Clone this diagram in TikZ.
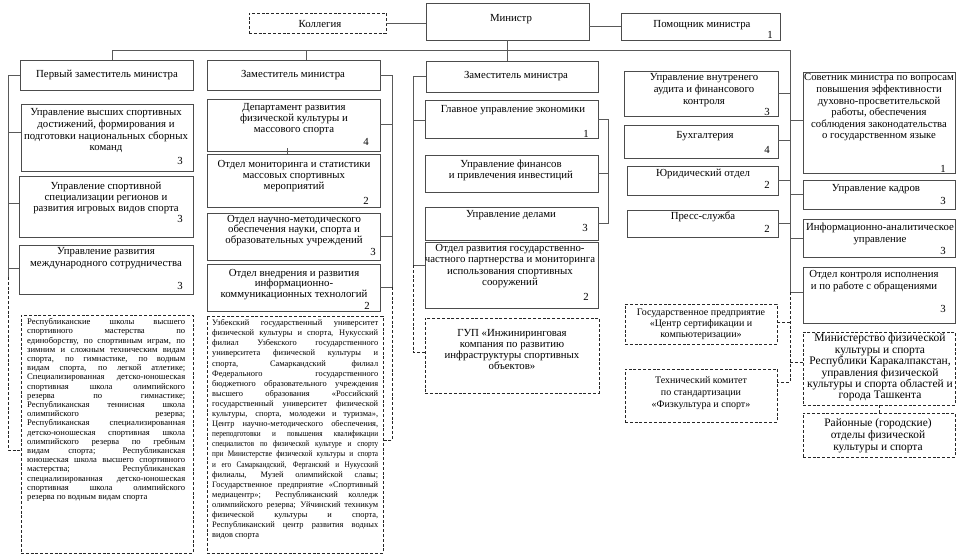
\documentclass[tikz,border=0pt]{standalone}
\usepackage{fontspec}
\setmainfont{Liberation Serif}
\newfontfamily\condf[FakeStretch=0.86]{Liberation Serif}
\newcommand\jla[1]{\makebox[158pt][s]{#1}}
\newcommand\jlb[1]{\makebox[166pt][s]{#1}}
\newcommand\smf{\condf\fontsize{8.4}{10.1}\selectfont}
\newcommand\bx[6][sbox]{%
  \pgfmathsetmacro\mybw{#5-#3}\pgfmathsetmacro\mybh{#6-#4}%
  \node[#1,minimum width=\mybw pt,minimum height=\mybh pt] (#2) at ({(#3+#5)/2},{(#4+#6)/2}) {};}
\tikzset{
  sbox/.style={draw=black!70,line width=0.7pt,inner sep=0pt},
  dbox/.style={draw=black!85,line width=0.9pt,dash pattern=on 3pt off 1.8pt,inner sep=0pt},
  con/.style={draw=black!65,line width=0.7pt},
  dcon/.style={draw=black!85,line width=0.9pt,dash pattern=on 3pt off 1.8pt},
  tx/.style={anchor=north,yshift=3.3pt,inner sep=0pt,align=center,text=black,font=\fontsize{10.8}{11.6}\selectfont},
  txb/.style={tx,font=\fontsize{10.8}{11}\selectfont},
  one/.style={inner sep=0pt,text=black,font=\fontsize{10.8}{12}\selectfont,text height=8pt,text depth=0pt},
  nm/.style={inner sep=0pt,text=black,font=\fontsize{10.8}{12}\selectfont,text height=8.5pt,text depth=0pt},
  densea/.style={anchor=north west,yshift=3.7pt,inner sep=0pt,align=left,text=black,font=\fontsize{8.6}{9.2}\selectfont},
  denseb/.style={anchor=north west,yshift=3.6pt,inner sep=0pt,align=left,text=black,font=\fontsize{8.4}{10.1}\selectfont}
}
\begin{document}
\begin{tikzpicture}[x=1pt,y=-1pt]
\fill[white] (0,0) rectangle (963,555);
\useasboundingbox (0,0) rectangle (963,555);

% ---------- boxes ----------
\bx[dbox]{kol}{249}{13}{386}{33}
\bx{min}{426}{3}{589}{40}
\bx{pom}{621}{13}{780}{40}
\bx{p1}{20}{60}{193}{90}
\bx{A}{21}{104}{193}{171}
\bx{B}{19}{176}{193}{237}
\bx{C}{19}{245}{193}{294}
\bx[dbox]{D1}{21}{315}{193}{553}
\bx{z2}{207}{60}{380}{90}
\bx{E}{207}{99}{380}{151}
\bx{F}{207}{154}{380}{207}
\bx{G}{207}{213}{380}{260}
\bx{H}{207}{264}{380}{311}
\bx[dbox]{D2}{207}{316}{383}{553}
\bx{z3}{426}{61}{598}{92}
\bx{K1}{425}{100}{598}{138}
\bx{K2}{425}{155}{598}{192}
\bx{K3}{425}{207}{598}{240}
\bx{K4}{425}{242}{598}{308}
\bx[dbox]{GUP}{425}{318}{599}{393}
\bx{M1}{624}{71}{778}{116}
\bx{M2}{624}{125}{778}{158}
\bx{M3}{627}{166}{778}{195}
\bx{M4}{627}{210}{778}{237}
\bx{R1}{803}{72}{955}{173}
\bx{R2}{803}{180}{955}{209}
\bx{R3}{803}{219}{955}{257}
\bx{R4}{803}{267}{955}{323}
\bx[dbox]{GP}{625}{304}{777}{344}
\bx[dbox]{TK}{625}{369}{777}{422}
\bx[dbox]{MN}{803}{332}{955}{405}
\bx[dbox]{RN}{803}{413}{955}{457}

% ---------- texts ----------
\node[one] (kolt) at (320,23) {Коллегия};
\node[one] (mint) at (511,17) {Министр};
\node[one] (pomt) at (702,23) {Помощник министра};
\node[nm] (pomn) at (770,34) {1};
\node[one] (p1t) at (107,73) {Первый заместитель министра};
\node[one] (z2t) at (293,73) {Заместитель министра};
\node[one] (z3t) at (516,74) {Заместитель министра};

\node[tx] (At) at (106,112) {Управление высших спортивных\\достижений, формирования и\\подготовки национальных сборных\\команд};
\node[nm] (An) at (180,160) {3};
\node[tx,font=\fontsize{10.8}{11.2}\selectfont] (Bt) at (106,185) {Управление спортивной\\специализации регионов и\\развития игровых видов спорта};
\node[nm] (Bn) at (180,218) {3};
\node[tx] (Ct) at (106,251) {Управление развития\\международного сотрудничества};
\node[nm] (Cn) at (180,285) {3};

\node[txb] (Et) at (294,107) {Департамент развития\\физической культуры и\\массового спорта};
\node[nm] (En) at (366,141) {4};
\node[txb] (Ft) at (294,163) {Отдел мониторинга и статистики\\массовых спортивных\\мероприятий};
\node[nm] (Fn) at (366,200) {2};
\node[txb,font=\fontsize{10.8}{10.6}\selectfont] (Gt) at (294,218) {Отдел научно-методического\\обеспечения науки, спорта и\\образовательных учреждений};
\node[nm] (Gn) at (373,251) {3};
\node[txb,font=\fontsize{10.8}{10.6}\selectfont] (Ht) at (294,272) {Отдел внедрения и развития\\информационно-\\коммуникационных технологий};
\node[nm] (Hn) at (367,305) {2};

\node[one] (K1t) at (513,108) {Главное управление экономики};
\node[nm] (K1n) at (586,133) {1};
\node[txb] (K2t) at (511,163) {Управление финансов\\и привлечения инвестиций};
\node[one] (K3t) at (511,213) {Управление делами};
\node[nm] (K3n) at (585,227) {3};
\node[tx] (K4t) at (510,247) {Отдел развития государственно-\\частного партнерства и мониторинга\\использования спортивных\\сооружений};
\node[nm] (K4n) at (586,296) {2};
\node[tx,font=\fontsize{10.8}{10.7}\selectfont] (GUPt) at (512,333) {ГУП «Инжиниринговая\\компания по развитию\\инфраструктуры спортивных\\объектов»};

\node[tx,font=\fontsize{10.8}{11.8}\selectfont] (M1t) at (704,77) {Управление внутренего\\аудита и финансового\\контроля};
\node[nm] (M1n) at (767,111) {3};
\node[one] (M2t) at (705,134) {Бухгалтерия};
\node[nm] (M2n) at (767,149) {4};
\node[one] (M3t) at (703,172) {Юридический отдел};
\node[nm] (M3n) at (767,184) {2};
\node[one] (M4t) at (703,215) {Пресс-служба};
\node[nm] (M4n) at (767,228) {2};

\node[tx,font=\fontsize{10.7}{11.6}\selectfont] (R1t) at (879,77) {Советник министра по вопросам\\повышения эффективности\\духовно-просветительской\\работы, обеспечения\\соблюдения законодательства\\о государственном языке};
\node[nm] (R1n) at (943,168) {1};
\node[one] (R2t) at (876,187) {Управление кадров};
\node[nm] (R2n) at (943,200) {3};
\node[tx] (R3t) at (880,226) {Информационно-аналитическое\\управление};
\node[nm] (R3n) at (943,250) {3};
\node[tx,font=\fontsize{10.8}{12}\selectfont] (R4t) at (874,273) {Отдел контроля исполнения\\и по работе с обращениями};
\node[nm] (R4n) at (943,308) {3};

\node[tx,yshift=-1pt,font=\fontsize{10}{11}\selectfont] (GPt) at (701,311) {Государственное предприятие\\«Центр сертификации и\\компьютеризации»};
\node[tx,yshift=-1pt,font=\fontsize{10}{12}\selectfont] (TKt) at (701,379) {Технический комитет\\по стандартизации\\«Физкультура и спорт»};
\node[tx,font=\fontsize{11.5}{11.4}\selectfont] (MNt) at (880,337) {Министерство физической\\культуры и спорта\\Республики Каракалпакстан,\\управления физической\\культуры и спорта областей и\\города Ташкента};
\node[tx,font=\fontsize{11.4}{12}\selectfont] (RNt) at (878,422) {Районные (городские)\\отделы физической\\культуры и спорта};

\node[densea] (D1t) at (27,322) {%
\jla{Республиканские школы высшего}\\
\jla{спортивного мастерства по}\\
\jla{единоборству, по спортивным играм, по}\\
\jla{зимним и сложным техническим видам}\\
\jla{спорта, по гимнастике, по водным}\\
\jla{видам спорта, по легкой атлетике;}\\
\jla{Специализированная детско-юношеская}\\
\jla{спортивная школа олимпийского}\\
\jla{резерва по гимнастике;}\\
\jla{Республиканская теннисная школа}\\
\jla{олимпийского резерва;}\\
\jla{Республиканская специализированная}\\
\jla{детско-юношеская спортивная школа}\\
\jla{олимпийского резерва по гребным}\\
\jla{видам спорта; Республиканская}\\
\jla{юношеская школа высшего спортивного}\\
\jla{мастерства; Республиканская}\\
\jla{специализированная детско-юношеская}\\
\jla{спортивная школа олимпийского}\\
резерва по водным видам спорта};

\node[denseb] (D2t) at (212,323) {%
\jlb{Узбекский государственный университет}\\
\jlb{физической культуры и спорта, Нукусский}\\
\jlb{филиал Узбекского государственного}\\
\jlb{университета физической культуры и}\\
\jlb{спорта, Самаркандский филиал}\\
\jlb{Федерального государственного}\\
\jlb{бюджетного образовательного учреждения}\\
\jlb{высшего образования «Российский}\\
\jlb{государственный университет физической}\\
\jlb{культуры, спорта, молодежи и туризма»,}\\
\jlb{Центр научно-методического обеспечения,}\\
\jlb{\smf переподготовки и повышения квалификации}\\
\jlb{\smf специалистов по физической культуре и спорту}\\
\jlb{\smf при Министерстве физической культуры и спорта}\\
\jlb{\smf и его Самаркандский, Ферганский и Нукусский}\\
\jlb{филиалы, Музей олимпийской славы;}\\
\jlb{Государственное предприятие «Спортивный}\\
\jlb{медиацентр»; Республиканский колледж}\\
\jlb{олимпийского резерва; Уйчинский техникум}\\
\jlb{физической культуры и спорта,}\\
\jlb{Республиканский центр развития водных}\\
видов спорта};

% ---------- connectors ----------
\draw[con] (kol.east) -- (kol.east -| min.west);
\draw[con] (pom.west) -- (pom.west -| min.east);
\draw[con] (min.south) -- (min.south |- z3.north);
\coordinate (bl) at (112,50);
\coordinate (br) at (790,50);
\coordinate (c4s) at (790,292);
\coordinate (c4d) at (790,382);
\coordinate (d2) at (306,50);
\draw[con] (bl |- p1.north) -- (bl) -- (br) -- (c4s);
\draw[con] (d2) -- (d2 |- z2.north);

% column 1
\coordinate (c1x) at (8,0);
\coordinate (c1s) at (8,277);
\coordinate (c1d) at (8,450);
\coordinate (bA) at (8,132);
\coordinate (bB) at (8,203);
\coordinate (bC) at (8,268);
\draw[con] (p1.west) -- (p1.west -| c1x) -- (c1s);
\draw[con] (bA) -- (bA -| A.west);
\draw[con] (bB) -- (bB -| B.west);
\draw[con] (bC) -- (bC -| C.west);
\draw[dcon] (c1s) -- (c1d) -- (c1d -| D1.west);

% column 2
\coordinate (c2x) at (392,0);
\coordinate (c2s) at (392,287);
\coordinate (c2d) at (392,440);
\coordinate (bE) at (392,124);
\coordinate (bG) at (392,236);
\draw[con] (z2.east) -- (z2.east -| c2x) -- (c2s) -- (c2s -| H.east);
\draw[con] (bE) -- (bE -| E.east);
\draw[con] (bG) -- (bG -| G.east);
\draw[con] ([xshift=-6.5pt,yshift=3pt]E.south) -- ([xshift=-6.5pt]F.north);
\draw[dcon] (c2s) -- (c2d) -- (c2d -| D2.east);

% column 3
\coordinate (c3x) at (413,0);
\coordinate (c3s) at (413,265);
\coordinate (c3d) at (413,352);
\coordinate (bK1) at (413,120);
\draw[con] (z3.west) -- (z3.west -| c3x) -- (c3s) -- (c3s -| K4.west);
\draw[con] (bK1) -- (bK1 -| K1.west);
\draw[dcon] (c3s) -- (c3d) -- (c3d -| GUP.west);
\coordinate (kx) at (608,0);
\draw[con] (K1.east) -- (K1.east -| kx) -- (kx |- K3.east) -- (K3.east);
\draw[con] (K2.east) -- (K2.east -| kx);

% column 4
\coordinate (bM1) at (790,93);
\coordinate (bM2) at (790,140);
\coordinate (bM3) at (790,180);
\coordinate (bM4) at (790,223);
\coordinate (bR1) at (790,120);
\coordinate (bR2) at (790,194);
\coordinate (bR3) at (790,238);
\coordinate (bGP) at (790,322);
\coordinate (bMN) at (790,362);
\draw[con] (bM1) -- (bM1 -| M1.east);
\draw[con] (bM2) -- (bM2 -| M2.east);
\draw[con] (bM3) -- (bM3 -| M3.east);
\draw[con] (bM4) -- (bM4 -| M4.east);
\draw[con] (bR1) -- (bR1 -| R1.west);
\draw[con] (bR2) -- (bR2 -| R2.west);
\draw[con] (bR3) -- (bR3 -| R3.west);
\draw[con] (c4s) -- (c4s -| R4.west);
\draw[dcon] (c4s) -- (c4d) -- (c4d -| TK.east);
\draw[dcon] (bGP) -- (bGP -| GP.east);
\draw[dcon] (bMN) -- (bMN -| MN.west);
\draw[dcon] (MN.south) -- (RN.north);
\end{tikzpicture}
\end{document}
